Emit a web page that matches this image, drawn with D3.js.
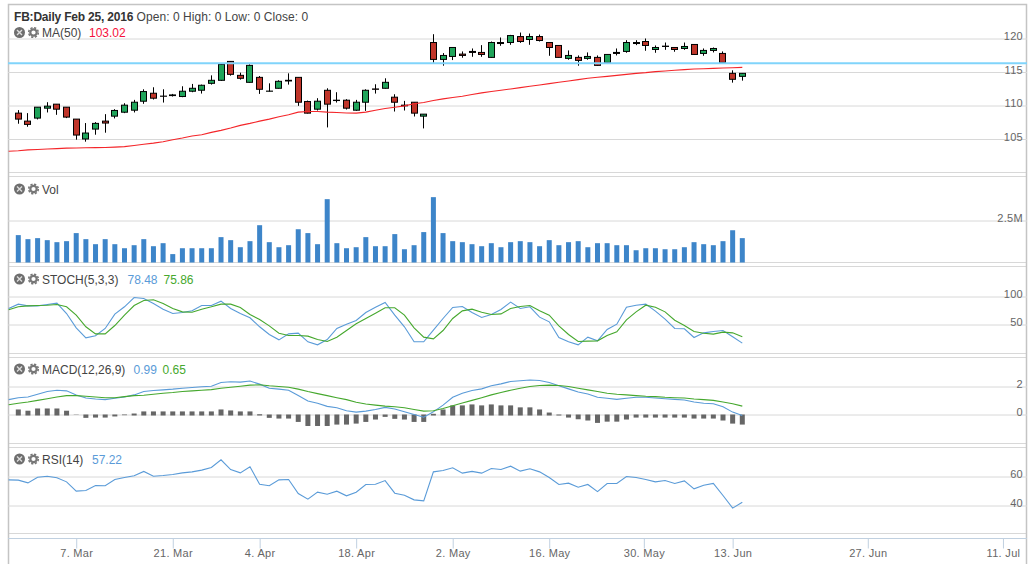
<!DOCTYPE html>
<html>
<head>
    <title>FB Daily</title>
    <script src="https://d3js.org/d3.v7.min.js"></script>
    <style>
        html, body { margin: 0; background: #fff; overflow: hidden; }
        text { font-family: "Liberation Sans", Arial, sans-serif; }
    </style>
</head>
<body>
    <svg id="chart" width="1033" height="564"></svg>

    <script>
        // candles, index 0 = 26 Feb
        const openVals = [108.86,107.67,108.12,109.6,110.2,109.75,107.97,105,106.48,107.67,108.41,109,109.3,110.64,111.83,111.4,111.48,111.34,112.13,112.28,113.31,113.76,116.58,114.5,113.46,114.2,112.13,112.57,113.76,114.2,110.59,109.45,112.27,110.79,110.79,109.3,110.49,112.47,112.57,111.24,110.05,110.49,108.41,119.4,116.88,117.32,117.67,118.07,117.92,117.18,119.4,119.4,120.29,119.85,120.29,119.4,118.96,117.03,117.18,117.03,117.18,116.43,117.92,118.07,119.4,119.55,118.36,118.86,118.66,118.51,119.11,117.77,118.22,117.77,114.8,114.35];
        const highVals = [109.31,108.86,109.75,110.49,110.2,109.75,107.97,107.38,107.52,108.71,109.45,110.34,110.84,112.42,112.72,112.42,111.73,112.87,113.22,113.12,114.5,116.28,116.63,114.9,116.14,114.4,113.31,113.76,114.8,114.2,110.74,111.09,112.57,111.98,110.94,110.84,112.42,113.17,114.06,111.68,110.69,110.49,108.71,120.64,117.82,118.66,118.07,118.51,119.01,119.55,120.15,120.54,120.89,120.74,120.59,119.4,118.96,118.22,117.47,117.92,117.47,117.62,118.51,119.75,119.75,120,118.96,119.4,118.66,119.4,119.11,118.51,118.66,118.07,115.25,114.8];
        const lowVals = [107.28,106.83,107.92,108.96,108.61,108.12,104.9,104.6,105.64,105.94,108.07,108.86,108.96,110.25,110.89,110.44,111.34,111.24,111.98,111.78,113.12,113.66,114.45,113.86,113.41,111.73,112.08,112.52,113.12,109.95,108.81,109.25,106.73,110.44,109.4,109.2,109.2,111.78,112.52,109.1,109.25,108.36,106.58,116.38,115.94,116.78,117.13,117.27,117.27,117.13,118.91,119.06,119.35,119.06,119.55,117.42,117.13,116.83,115.94,116.83,115.94,116.19,117.47,117.87,119.01,118.17,117.87,118.31,118.02,118.31,117.57,117.42,117.92,116.29,113.41,113.71];
        const closeVals = [107.97,107.18,109.75,109.9,109.45,108.27,105.59,105.89,107.33,107.38,109.26,110.05,110.49,112.08,111.09,111.38,111.58,112.13,112.57,113.02,113.76,116.14,114.65,114.06,115.99,112.42,112.15,113.61,113.66,110.49,108.86,110.64,110.2,110.74,109.6,110.49,112.27,112.42,113.46,110.49,109.95,108.86,108.71,116.88,117.47,118.66,117.47,117.92,117.62,119.4,119.25,120.44,119.55,120.29,119.7,118.66,117.18,117.47,116.73,117.32,115.99,117.62,117.77,119.4,119.25,118.96,118.66,118.81,118.36,118.81,117.62,118.22,118.51,116.43,113.91,114.8];

        // the indicator lines start one bar earlier, at the left edge
        const maVals = [103.17,103.24,103.37,103.44,103.51,103.56,103.64,103.66,103.69,103.71,103.74,103.79,103.86,104.03,104.21,104.38,104.6,104.9,105.15,105.45,105.64,105.99,106.29,106.63,107.03,107.33,107.67,107.97,108.32,108.61,109.01,109.11,109.11,109.01,108.96,108.88,108.86,109.01,109.3,109.55,109.75,109.95,110.25,110.44,110.74,110.99,111.19,111.38,111.63,111.88,112.08,112.28,112.47,112.67,112.87,113.07,113.27,113.46,113.66,113.86,114.06,114.21,114.35,114.5,114.65,114.8,114.9,115.05,115.15,115.25,115.35,115.44,115.49,115.54,115.59,115.64,115.69];
        const stochK = [78.6,86.3,83.3,83.3,85.7,88.1,69.6,44.1,26.2,29.8,42.9,68.5,81.6,98.2,96.4,87.5,77.4,69.6,71.4,74.4,83.9,83.9,91.7,78.6,69.6,61.9,45.9,32.2,22.6,33.3,34.5,19.1,13.7,23.2,42.9,50.6,57.1,71.4,80.9,89.3,66.7,45.9,19.1,19.1,39.9,60.7,80.4,82.2,71.4,62.5,67.9,76.8,89.9,78.6,81.6,63.1,54.8,26.8,19.1,13.7,27.4,20.8,41.1,50.6,80.9,84.5,86.3,73.8,59.5,42.9,42.3,26.8,35.1,37.5,39.3,28,16.7];
        const stochD = [76.2,81.6,83.3,83.9,84.5,85.7,81.6,66.7,45.9,33.3,33.3,48.2,66.7,83.9,92.9,94.1,87.5,78.6,72.6,72,77.4,81.6,86.3,86.3,80.4,67.9,58.9,47.6,34.5,30.4,30.4,29.2,23.2,19.7,27.4,39.3,51.2,60.7,70.2,79.8,79.8,66.7,44.1,27.4,24.4,39.3,60.7,74.4,77.4,72,67.9,69,78.6,82.2,83.9,74.4,66.7,47.6,32.2,19.7,20.3,20.8,30.4,36.9,58.3,72.6,84.5,80.9,72.6,57.7,48.2,37.5,34.5,32.8,36.3,35.1,28];
        const macdLine = [1.06,1.2,1.25,1.45,1.64,1.73,1.69,1.4,1.18,1.11,1.06,1.16,1.25,1.4,1.64,1.71,1.76,1.81,1.88,1.93,1.98,2.02,2.29,2.34,2.31,2.39,2.17,1.88,1.81,1.73,1.35,0.96,0.8,0.58,0.48,0.27,0.17,0.24,0.36,0.51,0.39,0.19,0,-0.19,0.19,0.67,1.23,1.52,1.71,1.83,2.05,2.19,2.36,2.41,2.46,2.43,2.29,2.05,1.83,1.61,1.47,1.23,1.16,1.08,1.16,1.23,1.23,1.18,1.13,1.08,1.04,0.89,0.8,0.77,0.55,0.17,-0.07];
        const macdSignal = [0.7,0.8,0.89,1.01,1.13,1.25,1.35,1.35,1.3,1.25,1.2,1.2,1.28,1.35,1.37,1.45,1.52,1.57,1.64,1.69,1.73,1.78,1.88,1.95,2.02,2.1,2.12,2.05,2,1.95,1.81,1.64,1.49,1.35,1.2,1.06,0.87,0.75,0.67,0.6,0.55,0.48,0.36,0.24,0.27,0.43,0.63,0.82,1.01,1.2,1.4,1.57,1.73,1.88,2,2.07,2.1,2.07,2,1.88,1.76,1.64,1.52,1.45,1.4,1.35,1.3,1.28,1.23,1.2,1.18,1.11,1.06,1.01,0.89,0.77,0.6];
        const rsiVals = [57.7,57.5,55.6,59.5,60.2,59.1,56.3,49.9,50.3,53.8,53.6,57.9,59.3,60.5,63.5,60.2,60.7,61.4,62.5,63.2,64.4,66.2,71.5,64.8,62.5,66.7,54.7,53.6,57.7,57.9,48.3,44.4,49.2,47.8,49.9,46.7,49.2,54.5,54.7,57.2,48.5,47.1,43.9,43.2,63.2,64.1,66,62.3,63.5,62.3,65.5,64.8,67.1,63.7,65.3,63.2,59.3,54.5,55.4,52.6,54.5,49.6,55.2,55.2,60,59.3,57.9,56.3,57.2,55.2,57,51.5,54,55.2,46.9,38.2,42.3];

        // per bar, index 0 = 26 Feb
        const macdHist = [0.36,0.27,0.43,0.43,0.43,0.27,-0.02,-0.24,-0.22,-0.22,-0.14,-0.05,0.07,0.22,0.22,0.22,0.22,0.22,0.22,0.22,0.22,0.36,0.29,0.22,0.22,0.02,-0.24,-0.29,-0.29,-0.53,-0.82,-0.82,-0.82,-0.72,-0.72,-0.65,-0.53,-0.36,-0.17,-0.31,-0.36,-0.53,-0.53,0.05,0.36,0.65,0.65,0.72,0.65,0.72,0.65,0.65,0.51,0.51,0.36,0.14,0,-0.22,-0.34,-0.43,-0.6,-0.51,-0.51,-0.36,-0.22,-0.22,-0.22,-0.22,-0.22,-0.22,-0.29,-0.29,-0.29,-0.43,-0.65,-0.72];
        const volVals = [1.63,1.39,1.45,1.33,1.21,1.27,1.75,1.39,1.09,1.39,1.09,0.85,1.03,1.39,0.97,1.15,0.5,0.85,0.85,0.85,0.85,1.51,1.33,0.91,1.27,2.22,1.21,0.91,1.03,1.98,1.75,1.09,3.77,1.15,0.85,0.91,1.51,0.97,0.97,1.69,0.79,1.03,1.81,3.89,1.75,1.27,1.21,1.09,0.97,1.15,0.91,1.21,1.27,1.21,0.97,1.33,1.03,1.21,1.27,0.91,1.15,1.15,1.03,1.03,0.73,0.85,0.85,0.79,0.79,0.91,1.21,1.09,1.03,1.27,1.92,1.45];

        const supportLevel = 116.3;
        const dateTicks = [6, 16, 25, 35, 45, 55, 64.8, 74, 88, 102];
        const dateLabels = ["7. Mar", "21. Mar", "4. Apr", "18. Apr", "2. May", "16. May", "30. May", "13. Jun", "27. Jun", "11. Jul"];

        const blue = "#5a9bd8", green = "#46a82e", grid = "#d8d8d8";
        const left = 8, right = 1027;

        const svg = d3.select("#chart");
        const x = d3.scaleLinear().domain([0, 75]).range([18.3, 742.3]);
        const crisp = v => Math.floor(v) + 0.5;

        const yPrice = d3.scaleLinear().domain([105, 120]).range([139, 38.5]);
        const yVol = d3.scaleLinear().domain([0, 2.5]).range([262.5, 220.5]);
        const yStoch = d3.scaleLinear().domain([50, 100]).range([324.5, 296.5]);
        const yMacd = d3.scaleLinear().domain([0, 2]).range([414.5, 386.5]);
        const yRsi = d3.scaleLinear().domain([40, 60]).range([505.5, 476.5]);

        // panel separators
        svg.append("g").selectAll("line")
            .data([172.5, 176.5, 262.5, 266.5, 353.5, 357.5, 443.5, 447.5, 533.5])
            .join("line")
            .attr("x1", left).attr("x2", right)
            .attr("y1", d => d).attr("y2", d => d)
            .attr("stroke", grid);

        // frame
        svg.append("path")
            .attr("d", `M${left + 0.5},564V4.5H${right - 0.5}V564`)
            .attr("fill", "none").attr("stroke", "#c4c4c4").attr("stroke-width", 1.5);

        // right hand axes, their ticks are the grid lines
        function yAxis(scale, values, fmt) {
            const g = svg.append("g")
                .attr("transform", `translate(${right},0)`)
                .call(d3.axisLeft(scale).tickValues(values).tickFormat(fmt).tickSize(right - left));
            g.select(".domain").remove();
            g.selectAll("line").attr("stroke", grid);
            g.selectAll("text")
                .attr("x", -4).attr("dy", "0.12em")
                .attr("fill", "#666").attr("font-size", 11)
                .style("letter-spacing", "0.3px");
        }
        yAxis(yPrice, [105, 110, 115, 120], d => d);
        yAxis(yVol, [2.5], d => d + "M");
        yAxis(yStoch, [50, 100], d => d);
        yAxis(yMacd, [0, 2], d => d);
        yAxis(yRsi, [40, 60], d => d);

        // date axis
        const xAxis = svg.append("g")
            .attr("transform", "translate(0,538.5)")
            .call(d3.axisBottom(x).tickValues(dateTicks)
                .tickFormat((d, i) => dateLabels[i]).tickSize(10).tickSizeOuter(0));
        xAxis.select(".domain").attr("d", `M${left},0H${right}`).attr("stroke", "#c0d0e0");
        xAxis.selectAll("line").attr("stroke", "#c0d0e0");
        xAxis.selectAll("text")
            .attr("y", 18.5).attr("dy", 0)
            .attr("fill", "#666").attr("font-size", 11)
            .style("letter-spacing", "0.3px");

        // candles
        const bars = d3.range(openVals.length);
        const wicks = svg.append("g");
        wicks.selectAll("line").data(bars).join("line")
            .attr("x1", i => crisp(x(i))).attr("x2", i => crisp(x(i)))
            .attr("y1", i => yPrice(highVals[i])).attr("y2", i => yPrice(lowVals[i]))
            .attr("stroke", "#000");
        svg.append("g").selectAll("rect").data(bars).join("rect")
            .attr("x", i => crisp(x(i)) - 3).attr("width", 6)
            .attr("y", i => yPrice(Math.max(openVals[i], closeVals[i])))
            .attr("height", i => Math.abs(yPrice(openVals[i]) - yPrice(closeVals[i])))
            .attr("fill", i => closeVals[i] >= openVals[i] ? "#1fa45a" : "#c0352a")
            .attr("stroke", "#000");

        const lineFrom = (vals, y) => d3.line().x((d, i) => x(i - 1)).y(d => y(d))(vals);
        const drawLine = (vals, y, color, w) => svg.append("path")
            .attr("d", lineFrom(vals, y))
            .attr("fill", "none").attr("stroke", color).attr("stroke-width", w);

        drawLine(maVals, yPrice, "#f4262a", 1.1);

        svg.append("line")
            .attr("x1", left).attr("x2", right)
            .attr("y1", yPrice(supportLevel)).attr("y2", yPrice(supportLevel))
            .attr("stroke", "#80d4fb").attr("stroke-width", 2);

        // volume
        svg.append("g").selectAll("rect").data(bars).join("rect")
            .attr("x", i => x(i) - 2.5).attr("width", 5)
            .attr("y", i => yVol(volVals[i]))
            .attr("height", i => yVol(0) - yVol(volVals[i]))
            .attr("fill", "#3d85c9");

        drawLine(stochK, yStoch, blue, 1.1);
        drawLine(stochD, yStoch, green, 1.1);

        // macd histogram sits one pixel under the zero line
        svg.append("g").selectAll("rect").data(bars).join("rect")
            .attr("x", i => x(i) - 2.5).attr("width", 5)
            .attr("y", i => macdHist[i] >= 0 ? yMacd(macdHist[i]) : yMacd(0))
            .attr("height", i => Math.abs(yMacd(macdHist[i]) - yMacd(0)) + (macdHist[i] >= 0 ? 1 : 0))
            .attr("fill", "#666");

        drawLine(macdLine, yMacd, blue, 1.1);
        drawLine(macdSignal, yMacd, green, 1.1);
        drawLine(rsiVals, yRsi, blue, 1.1);

        // legends
        function legend(iconY, baseY, name, values) {
            const g = svg.append("g");
            g.append("circle").attr("cx", 19.5).attr("cy", iconY).attr("r", 5.5).attr("fill", "#6e6e6e");
            g.append("path")
                .attr("d", `M17,${iconY - 2.5}l5,5M22,${iconY - 2.5}l-5,5`)
                .attr("stroke", "#ddd").attr("stroke-width", 1.4);
            g.append("circle").attr("cx", 33.5).attr("cy", iconY).attr("r", 3.2)
                .attr("fill", "none").attr("stroke", "#777").attr("stroke-width", 2.2);
            g.append("circle").attr("cx", 33.5).attr("cy", iconY).attr("r", 4.8)
                .attr("fill", "none").attr("stroke", "#777").attr("stroke-width", 1.6)
                .attr("stroke-dasharray", "2.2 1.57");
            g.append("text").attr("x", 42).attr("y", baseY)
                .attr("font-size", 12).attr("fill", "#444").text(name);
            values.forEach(v => g.append("text").attr("x", v.x).attr("y", baseY)
                .attr("font-size", 12).attr("fill", v.color).text(v.text));
        }
        legend(32.5, 37, "MA(50)", [{ x: 89, text: "103.02", color: "#f5103c" }]);
        legend(189, 193.5, "Vol", []);
        legend(279, 284, "STOCH(5,3,3)", [{ x: 127.5, text: "78.48", color: blue }, { x: 163.5, text: "75.86", color: green }]);
        legend(369, 374, "MACD(12,26,9)", [{ x: 133.5, text: "0.99", color: blue }, { x: 162.5, text: "0.65", color: green }]);
        legend(459, 464, "RSI(14)", [{ x: 92, text: "57.22", color: blue }]);

        const title = svg.append("text").attr("x", 14).attr("y", 21)
            .attr("font-size", 12).attr("fill", "#444");
        title.append("tspan").attr("font-weight", "bold").attr("fill", "#333")
            .style("letter-spacing", "-0.2px").text("FB:Daily Feb 25, 2016");
        title.append("tspan").style("letter-spacing", "0.05px").text(" Open: 0 High: 0 Low: 0 Close: 0");
    </script>
</body>
</html>
